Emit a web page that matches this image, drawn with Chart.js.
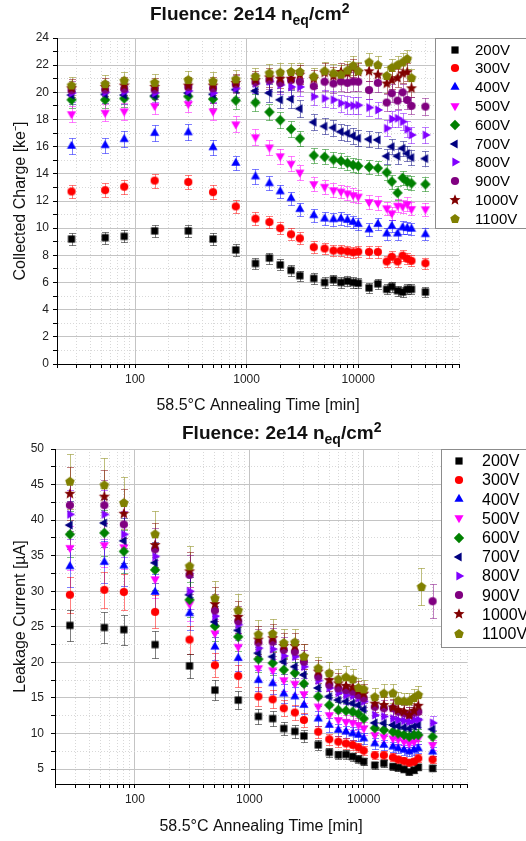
<!DOCTYPE html>
<html>
<head>
<meta charset="utf-8">
<script src="https://cdn.jsdelivr.net/npm/chart.js@4.4.1/dist/chart.umd.min.js"></script>
<style>
    html, body { margin: 0; padding: 0; background: #fff; }
    body { width: 526px; height: 841px; position: relative; overflow: hidden; font-family: "Liberation Sans", Arial, sans-serif; }
    .panel { position: absolute; left: 0; width: 526px; }
    .title { position: absolute; font-weight: bold; font-size: 19px; line-height: 19px; white-space: nowrap; color: #111; }
    .title sub, .title sup { font-size: 14px; line-height: 0; }
</style>
</head>
<body>
<div class="panel" style="top:0;height:420px"><canvas id="charge-chart" width="526" height="420"></canvas></div>
<div class="panel" style="top:420px;height:421px"><canvas id="leak-chart" width="526" height="421"></canvas></div>
<div class="title" style="left:150px;top:4px">Fluence: 2e14 n<sub>eq</sub>/cm<sup>2</sup></div>
<div class="title" style="left:182px;top:423px">Fluence: 2e14 n<sub>eq</sub>/cm<sup>2</sup></div>
<script>
// tempos de recozimento [min]
const times = [27, 54, 80, 150, 300, 500, 800, 1200, 1600, 2000, 2500, 3000, 4000, 5000, 6000, 7000,
    8000, 9000, 10000, 12500, 15000, 18000, 20000, 22500, 25000, 27500, 30000, 40000];
// o ultimo ponto de 1100V (corrente) foi medido em ~32000 min
const times1100Leak = [27, 54, 80, 150, 300, 500, 800, 1200, 1600, 2000, 2500, 3000, 4000, 5000, 6000, 7000,
    8000, 9000, 10000, 12500, 15000, 18000, 20000, 22500, 25000, 27500, 30000, 32000];

const voltages = ['200V', '300V', '400V', '500V', '600V', '700V', '800V', '900V', '1000V', '1100V'];

// carga coletada [ke-]
const charge200 = [9.2, 9.3, 9.4, 9.8, 9.8, 9.2, 8.4, 7.4, 7.8, 7.3, 6.9, 6.5, 6.3, 6.0, 6.2, 6.0, 6.1, 6.0, 5.95, 5.6, 5.9, 5.5, 5.7, 5.4, 5.3, 5.5, 5.5, 5.3];
const charge300 = [12.7, 12.8, 13.05, 13.5, 13.4, 12.65, 11.6, 10.7, 10.45, 10.0, 9.55, 9.25, 8.6, 8.5, 8.35, 8.35, 8.3, 8.22, 8.27, 8.25, 8.25, 7.55, 7.9, 7.55, 7.98, 7.75, 7.6, 7.42];
const charge400 = [16.05, 16.1, 16.55, 17.0, 17.05, 15.95, 14.8, 13.8, 13.3, 12.7, 12.2, 11.4, 10.95, 10.7, 10.65, 10.7, 10.6, 10.45, 10.3, 9.9, 10.3, 9.6, 10.15, 9.6, 10.05, 10.0, 9.95, 9.55];
const charge500 = [18.4, 18.5, 18.6, 19.0, 19.15, 18.6, 17.65, 16.7, 15.95, 15.3, 14.75, 14.1, 13.25, 13.05, 12.8, 12.7, 12.57, 12.44, 12.33, 11.93, 11.85, 11.47, 11.1, 11.66, 11.6, 11.78, 11.42, 11.4];
const charge600 = [19.45, 19.45, 19.55, 19.7, 19.7, 19.5, 19.4, 19.25, 18.55, 17.95, 17.3, 16.6, 15.35, 15.25, 15.05, 14.95, 14.8, 14.65, 14.58, 14.5, 14.42, 14.1, 13.43, 12.6, 13.7, 13.43, 13.3, 13.23];
const charge700 = [19.8, 19.85, 19.8, 19.75, 19.95, 19.85, 20.2, 20.1, 19.95, 19.45, 19.5, 18.8, 17.8, 17.5, 17.4, 17.1, 16.98, 16.8, 16.62, 16.55, 16.5, 15.3, 16.0, 15.3, 15.88, 15.5, 15.2, 15.12];
const charge800 = [19.95, 20.0, 20.05, 19.95, 20.1, 19.95, 20.3, 20.65, 20.8, 20.55, 20.4, 20.4, 19.68, 19.55, 19.45, 19.2, 19.07, 19.02, 19.05, 18.88, 18.7, 17.35, 18.04, 18.09, 17.84, 17.28, 16.86, 16.86];
const charge900 = [20.15, 20.2, 20.25, 20.2, 20.4, 20.3, 20.6, 20.75, 20.9, 20.7, 20.9, 20.8, 20.45, 20.78, 20.65, 20.8, 20.7, 20.8, 20.78, 20.17, 20.7, 19.25, 19.93, 19.39, 20.0, 19.44, 19.0, 18.95];
const charge1000 = [20.3, 20.4, 20.5, 20.4, 20.5, 20.5, 20.7, 20.9, 21.1, 21.0, 21.0, 21.3, 21.0, 21.45, 21.2, 21.5, 21.4, 21.8, 21.5, 21.55, 21.3, 20.65, 20.9, 21.05, 21.4, 21.48, 20.3, null];
const charge1100 = [20.5, 20.6, 20.85, 20.7, 20.9, 20.8, 20.95, 21.15, 21.4, 21.45, 21.5, 21.5, 21.15, 21.55, 21.4, 21.3, 21.6, 21.95, 21.55, 22.2, 22.0, 21.2, 21.8, 22.0, 22.2, 22.45, 21.05, null];

// corrente de fuga [uA]
const leak200 = [25.2, 24.9, 24.6, 22.5, 19.5, 16.1, 14.7, 12.4, 12.1, 10.7, 10.3, 9.65, 8.4, 7.35, 7.0, 7.05, 6.75, 6.4, 6.05, 5.55, 5.8, 5.35, 5.2, 4.95, 4.6, 4.85, 5.25, 5.1];
const leak300 = [29.5, 30.2, 29.9, 27.1, 23.2, 19.6, 18.1, 15.2, 14.8, 13.55, 12.95, 11.9, 10.25, 9.2, 8.85, 8.6, 8.4, 8.05, 7.6, 6.95, 6.95, 6.65, 6.35, 6.15, 5.9, 6.05, 6.5, 6.35];
const leak400 = [33.5, 34.1, 33.6, 29.9, 26.9, 22.2, 20.6, 17.5, 17.05, 15.6, 15.2, 14.0, 12.1, 11.2, 10.5, 10.25, 10.0, 9.8, 9.3, 8.6, 8.4, 8.15, 7.9, 7.7, 7.45, 7.7, 7.9, 7.45];
const leak500 = [36.1, 36.5, 36.2, 31.7, 28.2, 24.1, 22.2, 19.2, 18.9, 17.5, 17.0, 15.55, 13.8, 12.6, 11.9, 11.65, 11.5, 11.2, 10.75, 9.8, 9.55, 9.3, 9.2, 8.85, 8.6, 8.85, 9.3, 8.4];
const leak600 = [38.0, 38.2, 35.6, 33.0, 28.8, 25.1, 23.6, 20.45, 19.9, 18.95, 18.5, 17.0, 15.2, 14.0, 13.3, 13.2, 13.05, 12.75, 12.1, 10.75, 10.5, 10.25, 10.0, 9.8, 9.55, 9.8, 9.8, 9.55];
const leak700 = [39.3, 39.6, 37.1, 34.0, 29.5, 25.7, 24.5, 21.3, 20.8, 20.1, 19.4, 18.25, 16.4, 15.2, 14.7, 14.5, 14.25, 14.0, 13.4, 11.5, 11.45, 11.2, 11.05, 10.85, 10.7, 11.0, 11.2, 10.6];
const leak800 = [40.8, 40.8, 38.0, 34.9, 30.0, 26.5, 25.3, 22.0, 21.85, 20.9, 20.8, 19.4, 17.45, 16.4, 15.7, 15.4, 15.3, 14.95, 14.5, 12.6, 12.4, 12.1, 11.9, 11.8, 11.65, 11.9, 11.95, 11.5];
const leak900 = [42.1, 42.1, 39.4, 35.9, 32.3, 27.3, 25.8, 22.8, 22.9, 21.75, 21.5, 20.1, 18.0, 16.85, 16.35, 16.1, 15.9, 15.4, 14.95, 13.75, 13.55, 13.55, 13.05, 12.85, 12.6, 12.95, 13.05, 28.6];
const leak1000 = [43.7, 43.3, 40.9, 36.5, 32.8, 28.2, 26.4, 23.2, 23.4, 22.3, 22.3, 20.8, 18.7, 17.5, 17.05, 16.7, 16.5, 16.0, 15.6, 14.2, 14.0, 13.67, 13.3, 13.07, 12.6, 13.2, 13.9, null];
const leak1100 = [45.4, 44.9, 42.4, 38.0, 33.5, 29.0, 27.3, 23.9, 24.0, 22.7, 22.8, 20.8, 19.15, 18.45, 17.6, 17.9, 17.6, 16.4, 16.2, 15.1, 15.6, 15.65, 14.6, 14.5, 14.5, 15.0, 15.4, 30.6];

// incertezas
const chargeErrBase = 0.25;
const chargeErrFrac = 0.02;
const leakErrFrac = 0.085;

// eixos
const timeTickLabels = [100, 1000, 10000];
const chargeTicks = [0, 2, 4, 6, 8, 10, 12, 14, 16, 18, 20, 22, 24];
const leakTicks = [5, 10, 15, 20, 25, 30, 35, 40, 45, 50];

const FONT = '"Liberation Sans", Arial, sans-serif';
Chart.defaults.font.family = FONT;
Chart.defaults.color = '#000';

const seriesColors = ['#000000', '#ff0000', '#0000ff', '#ff00ff', '#008000', '#000080', '#8000ff', '#800080', '#800000', '#808000'];
const seriesShapes = ['square', 'circle', 'up', 'down', 'diamond', 'left', 'right', 'circle', 'star', 'pentagon'];

/**
 * Desenha um marcador num canvas pequeno para usar como pointStyle
 */
function makeMarker(shape, color) {
    const size = 14, c = size / 2;
    const cv = document.createElement('canvas');
    cv.width = size;
    cv.height = size;
    const g = cv.getContext('2d');
    g.fillStyle = color;
    g.beginPath();
    if (shape === 'square') {
        g.rect(c - 3.6, c - 3.6, 7.2, 7.2);
    } else if (shape === 'circle') {
        g.arc(c, c, 4.1, 0, Math.PI * 2);
    } else {
        const spec = {
            up: [3, 5.3, -90], down: [3, 5.3, 90], left: [3, 5.3, 180], right: [3, 5.3, 0],
            diamond: [4, 5.2, -90], pentagon: [5, 5.0, -90], star: [10, 5.8, -90]
        }[shape];
        const [n, r, start] = spec;
        for (let k = 0; k < n; k++) {
            const rr = (shape === 'star' && k % 2) ? r * 0.45 : r;
            const a = (start + k * 360 / n) * Math.PI / 180;
            g.lineTo(c + rr * Math.cos(a), c + rr * Math.sin(a));
        }
        g.closePath();
    }
    g.fill();
    return cv;
}

function hexToRgba(hex, alpha) {
    const n = parseInt(hex.slice(1), 16);
    return `rgba(${(n >> 16) & 255},${(n >> 8) & 255},${n & 255},${alpha})`;
}

const markers = seriesShapes.map((s, i) => makeMarker(s, seriesColors[i]));

// Barras de erro desenhadas antes dos pontos
const errorBarsPlugin = {
    id: 'errorBars',
    beforeDatasetsDraw(chart) {
        const ctx = chart.ctx;
        const yScale = chart.scales.y;
        ctx.save();
        ctx.lineWidth = 1;
        for (let i = chart.data.datasets.length - 1; i >= 0; i--) {
            const ds = chart.data.datasets[i];
            const meta = chart.getDatasetMeta(i);
            ctx.strokeStyle = ds.errColor;
            meta.data.forEach((pt, j) => {
                const v = ds.data[j].y, e = ds.errors[j];
                const x = Math.round(pt.x) + 0.5;
                const y1 = Math.round(yScale.getPixelForValue(v + e)) + 0.5;
                const y2 = Math.round(yScale.getPixelForValue(v - e)) + 0.5;
                ctx.beginPath();
                ctx.moveTo(x, y1); ctx.lineTo(x, y2);
                ctx.moveTo(x - 3.5, y1); ctx.lineTo(x + 3.5, y1);
                ctx.moveTo(x - 3.5, y2); ctx.lineTo(x + 3.5, y2);
                ctx.stroke();
            });
        }
        ctx.restore();
    }
};

// Legenda com caixa, estilo Origin
const boxLegendPlugin = {
    id: 'boxLegend',
    afterDraw(chart, args, opts) {
        const ctx = chart.ctx;
        ctx.save();
        ctx.fillStyle = '#fff';
        ctx.fillRect(opts.left, opts.top, opts.width, opts.height);
        ctx.strokeStyle = '#8c8c8c';
        ctx.lineWidth = 1;
        ctx.strokeRect(opts.left + 0.5, opts.top + 0.5, opts.width, opts.height);
        ctx.font = opts.fontSize + 'px ' + FONT;
        ctx.fillStyle = '#000';
        ctx.textBaseline = 'middle';
        chart.data.datasets.forEach((ds, i) => {
            const yy = opts.firstY + i * opts.step;
            const m = ds.pointStyle;
            ctx.drawImage(m, Math.round(opts.markerX - m.width / 2), Math.round(yy - m.height / 2));
            ctx.fillText(ds.label, opts.textX, yy + 1);
        });
        ctx.restore();
    }
};

function toPoints(xs, ys) {
    const pts = [];
    ys.forEach((y, i) => { if (y !== null) pts.push({ x: xs[i], y: y }); });
    return pts;
}

function buildDatasets(seriesList, timeList, errFn) {
    return seriesList.map((vals, i) => {
        const pts = toPoints(timeList[i], vals);
        return {
            label: voltages[i],
            data: pts,
            errors: pts.map(p => errFn(p.y)),
            errColor: hexToRgba(seriesColors[i], 0.5),
            pointStyle: markers[i],
            pointRadius: 5,
            pointHoverRadius: 5,
            showLine: false,
            order: seriesList.length - 1 - i
        };
    });
}

// ticks do eixo log (menores incluidos para a grade pontilhada)
const logTickValues = [];
[10, 100, 1000, 10000].forEach(d => {
    for (let m = 1; m <= 9; m++) {
        const v = m * d;
        if (v >= 20 && v <= 80000) logTickValues.push(v);
    }
});

const majorGrid = '#c4c4c4';
const minorGrid = '#d8d8d8';

function xScaleOptions(height) {
    return {
        type: 'logarithmic',
        min: 20,
        max: 80000,
        afterBuildTicks: axis => { axis.ticks = logTickValues.map(v => ({ value: v })); },
        afterFit: s => { s.height = height; },
        ticks: {
            autoSkip: false,
            maxRotation: 0,
            padding: 4,
            font: { size: 12 },
            color: '#222',
            callback: v => timeTickLabels.includes(v) ? String(v) : ''
        },
        grid: {
            color: ctx => (ctx.tick && timeTickLabels.includes(ctx.tick.value)) ? majorGrid : minorGrid,
            lineWidth: 1,
            tickLength: 4,
            tickColor: '#000'
        },
        border: {
            color: '#000',
            width: 1,
            dash: ctx => (ctx.tick && !timeTickLabels.includes(ctx.tick.value)) ? [1, 2] : []
        },
        title: {
            display: true,
            text: '58.5°C Annealing Time [min]',
            font: { size: 16 },
            color: '#111',
            padding: { top: 0, bottom: 5 }
        }
    };
}

function yScaleOptions(cfg) {
    return {
        type: 'linear',
        min: cfg.min,
        max: cfg.max,
        afterBuildTicks: axis => { axis.ticks = cfg.allTicks.map(v => ({ value: v })); },
        afterFit: s => { s.width = cfg.width; },
        ticks: {
            autoSkip: false,
            padding: cfg.pad,
            font: { size: 12 },
            color: '#222',
            callback: v => cfg.labels.includes(v) ? String(v) : ''
        },
        grid: {
            color: ctx => (ctx.tick && cfg.labels.includes(ctx.tick.value)) ? majorGrid : minorGrid,
            lineWidth: 1,
            tickLength: 4,
            tickColor: '#000'
        },
        border: {
            color: '#000',
            width: 1,
            dash: ctx => (ctx.tick && !cfg.labels.includes(ctx.tick.value)) ? [1, 2] : []
        },
        title: {
            display: true,
            text: cfg.title,
            font: { size: 16 },
            color: '#111',
            padding: { top: 11, bottom: 0 }
        }
    };
}

function createPanel(canvasId, datasets, layout, yCfg, xHeight, legendOpts) {
    const ctx = document.getElementById(canvasId).getContext('2d');
    return new Chart(ctx, {
        type: 'scatter',
        data: { datasets: datasets },
        options: {
            responsive: false,
            animation: false,
            devicePixelRatio: 1,
            layout: { padding: layout },
            scales: {
                x: xScaleOptions(xHeight),
                y: yScaleOptions(yCfg)
            },
            plugins: {
                legend: { display: false },
                tooltip: { enabled: false },
                boxLegend: legendOpts
            }
        },
        plugins: [errorBarsPlugin, boxLegendPlugin]
    });
}

// painel superior: carga coletada
const chargeSeries = [charge200, charge300, charge400, charge500, charge600, charge700, charge800, charge900, charge1000, charge1100];
const chargeMinor = [];
for (let v = 0; v <= 24; v++) chargeMinor.push(v);

createPanel('charge-chart',
    buildDatasets(chargeSeries, chargeSeries.map(() => times), v => chargeErrBase + chargeErrFrac * v),
    { left: 0, top: 38, right: 67, bottom: 0 },
    { min: 0, max: 24, allTicks: chargeMinor, labels: chargeTicks, width: 57, pad: 4, title: 'Collected Charge [ke\u207B]' },
    56,
    { left: 435, top: 38, width: 100, height: 190, markerX: 455, textX: 475, firstY: 49.5, step: 18.8, fontSize: 15 }
);

// painel inferior: corrente de fuga
const leakSeries = [leak200, leak300, leak400, leak500, leak600, leak700, leak800, leak900, leak1000, leak1100];
const leakTimes = leakSeries.map((s, i) => i === leakSeries.length - 1 ? times1100Leak : times);
const leakMinor = [];
for (let v = 5; v <= 50; v += 2.5) leakMinor.push(v);

createPanel('leak-chart',
    buildDatasets(leakSeries, leakTimes, v => leakErrFrac * v),
    { left: 0, top: 29, right: 59, bottom: 0 },
    { min: 2.9, max: 50, allTicks: leakMinor, labels: leakTicks, width: 55, pad: 7, title: 'Leakage Current [\u00B5A]' },
    57,
    { left: 441, top: 29, width: 100, height: 198, markerX: 459, textX: 482, firstY: 40.7, step: 19.2, fontSize: 16 }
);
</script>
</body>
</html>
